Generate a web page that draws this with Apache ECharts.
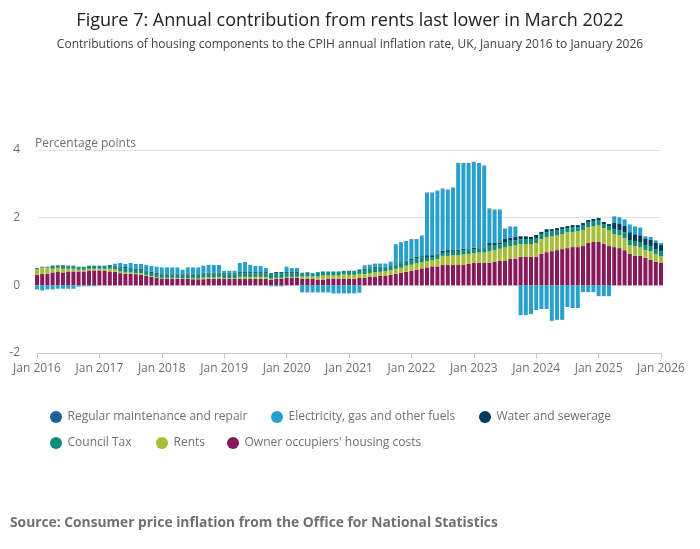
<!DOCTYPE html>
<html>
<head>
<meta charset="utf-8">
<title>Figure 7</title>
<script src="https://cdn.jsdelivr.net/npm/echarts@6/dist/echarts.min.js"></script>
<style>
  html, body { margin: 0; padding: 0; background: #fff; }
  #chart { width: 700px; height: 549px; }
</style>
</head>
<body>
<div id="chart"></div>
<script>
// month labels, Jan 2016 to Jan 2026
var monthNames = ['Jan', 'Feb', 'Mar', 'Apr', 'May', 'Jun', 'Jul', 'Aug', 'Sep', 'Oct', 'Nov', 'Dec'];
var years = [2016, 2017, 2018, 2019, 2020, 2021, 2022, 2023, 2024, 2025, 2026];
var yTicks = [-2, 0, 2, 4];

// contributions, percentage points (one row per year)
var ownerOccupiers = [
  0.31, 0.34, 0.34, 0.38, 0.41, 0.38, 0.41, 0.41, 0.41, 0.41, 0.44, 0.44,
  0.44, 0.44, 0.41, 0.40, 0.36, 0.34, 0.34, 0.33, 0.31, 0.28, 0.25, 0.22,
  0.20, 0.20, 0.20, 0.20, 0.19, 0.19, 0.18, 0.18, 0.18, 0.19, 0.19, 0.19,
  0.19, 0.19, 0.19, 0.19, 0.19, 0.19, 0.19, 0.19, 0.19, 0.17, 0.19, 0.19,
  0.22, 0.22, 0.22, 0.20, 0.20, 0.20, 0.17, 0.17, 0.20, 0.20, 0.20, 0.20,
  0.19, 0.19, 0.22, 0.22, 0.26, 0.26, 0.29, 0.29, 0.31, 0.34, 0.37, 0.40,
  0.43, 0.46, 0.50, 0.53, 0.56, 0.56, 0.60, 0.60, 0.60, 0.60, 0.60, 0.63,
  0.67, 0.67, 0.67, 0.67, 0.70, 0.72, 0.72, 0.79, 0.79, 0.84, 0.84, 0.84,
  0.84, 0.93, 0.98, 1.01, 1.04, 1.07, 1.10, 1.13, 1.13, 1.16, 1.25, 1.28,
  1.28, 1.22, 1.16, 1.13, 1.10, 1.04, 0.93, 0.87, 0.87, 0.81, 0.75, 0.69,
  0.66
];
var rents = [
  0.17, 0.18, 0.18, 0.11, 0.11, 0.11, 0.08, 0.08, 0.05, 0.05, 0.05, 0.05,
  0.05, 0.05, 0.08, 0.08, 0.05, 0.04, 0.04, 0.03, 0.05, 0.03, 0.02, 0.02,
  0.02, 0.02, 0.02, 0.02, 0.02, 0.02, 0.04, 0.02, 0.05, 0.04, 0.04, 0.06,
  0.02, 0.02, 0.02, 0.06, 0.06, 0.06, 0.06, 0.06, 0.06, 0.03, 0.03, 0.03,
  0.03, 0.03, 0.03, 0.06, 0.06, 0.06, 0.09, 0.12, 0.09, 0.09, 0.09, 0.12,
  0.12, 0.12, 0.12, 0.11, 0.10, 0.13, 0.11, 0.13, 0.14, 0.15, 0.15, 0.18,
  0.18, 0.19, 0.18, 0.19, 0.19, 0.22, 0.27, 0.27, 0.29, 0.29, 0.31, 0.30,
  0.28, 0.30, 0.30, 0.34, 0.34, 0.36, 0.41, 0.37, 0.39, 0.38, 0.38, 0.38,
  0.41, 0.44, 0.44, 0.44, 0.44, 0.44, 0.47, 0.44, 0.47, 0.47, 0.47, 0.47,
  0.50, 0.47, 0.47, 0.38, 0.38, 0.35, 0.26, 0.29, 0.26, 0.23, 0.26, 0.23,
  0.20
];
var councilTax = [
  0.03, 0.03, 0.03, 0.06, 0.06, 0.08, 0.07, 0.07, 0.07, 0.09, 0.09, 0.09,
  0.09, 0.09, 0.09, 0.08, 0.12, 0.13, 0.11, 0.10, 0.10, 0.10, 0.10, 0.10,
  0.11, 0.11, 0.11, 0.11, 0.11, 0.11, 0.11, 0.13, 0.12, 0.12, 0.12, 0.10,
  0.14, 0.14, 0.14, 0.11, 0.11, 0.11, 0.11, 0.11, 0.11, 0.14, 0.14, 0.14,
  0.11, 0.11, 0.11, 0.10, 0.12, 0.09, 0.13, 0.12, 0.12, 0.12, 0.12, 0.11,
  0.11, 0.11, 0.12, 0.13, 0.14, 0.13, 0.13, 0.11, 0.12, 0.10, 0.13, 0.12,
  0.14, 0.15, 0.15, 0.12, 0.08, 0.13, 0.09, 0.12, 0.13, 0.13, 0.13, 0.13,
  0.12, 0.12, 0.12, 0.16, 0.15, 0.13, 0.15, 0.16, 0.15, 0.14, 0.15, 0.15,
  0.15, 0.15, 0.15, 0.15, 0.15, 0.15, 0.12, 0.15, 0.12, 0.15, 0.15, 0.15,
  0.15, 0.12, 0.12, 0.15, 0.15, 0.18, 0.15, 0.15, 0.15, 0.15, 0.15, 0.15,
  0.15
];
var water = [
  0.00, 0.00, 0.00, 0.03, 0.01, 0.02, 0.02, 0.02, 0.02, 0.00, 0.00, 0.00,
  0.00, 0.00, 0.02, 0.02, 0.03, 0.03, 0.02, 0.03, 0.03, 0.03, 0.03, 0.03,
  0.02, 0.02, 0.02, 0.02, 0.03, 0.03, 0.02, 0.02, 0.03, 0.03, 0.03, 0.01,
  0.03, 0.03, 0.03, 0.03, 0.03, 0.03, 0.03, 0.03, 0.03, 0.02, 0.03, 0.03,
  0.03, 0.03, 0.03, 0.01, 0.01, 0.01, 0.00, 0.00, 0.00, 0.00, 0.00, 0.00,
  0.01, 0.01, 0.01, 0.03, 0.03, 0.03, 0.02, 0.02, 0.02, 0.03, 0.03, 0.03,
  0.04, 0.04, 0.03, 0.05, 0.06, 0.03, 0.06, 0.05, 0.04, 0.04, 0.04, 0.03,
  0.04, 0.03, 0.03, 0.08, 0.07, 0.06, 0.09, 0.09, 0.10, 0.09, 0.08, 0.06,
  0.09, 0.06, 0.09, 0.06, 0.06, 0.06, 0.06, 0.06, 0.06, 0.06, 0.06, 0.06,
  0.06, 0.06, 0.06, 0.20, 0.20, 0.20, 0.23, 0.20, 0.20, 0.20, 0.18, 0.20,
  0.18
];
var electricity = [
  -0.12, -0.15, -0.12, -0.12, -0.10, -0.10, -0.10, -0.10, -0.04, -0.03, -0.03, -0.03,
  0.00, 0.00, 0.00, 0.06, 0.10, 0.09, 0.15, 0.14, 0.14, 0.16, 0.17, 0.18,
  0.18, 0.18, 0.18, 0.18, 0.11, 0.18, 0.18, 0.18, 0.20, 0.22, 0.22, 0.24,
  0.05, 0.05, 0.05, 0.27, 0.30, 0.21, 0.18, 0.18, 0.12, -0.03, -0.03, -0.03,
  0.16, 0.12, 0.12, -0.21, -0.21, -0.21, -0.21, -0.21, -0.21, -0.24, -0.24, -0.24,
  -0.24, -0.24, -0.22, 0.09, 0.07, 0.08, 0.08, 0.08, 0.09, 0.57, 0.57, 0.56,
  0.55, 0.50, 0.59, 1.83, 1.83, 1.84, 1.82, 1.77, 1.81, 2.54, 2.52, 2.51,
  2.52, 2.47, 2.40, 1.00, 0.96, 0.95, 0.31, 0.33, 0.31, -0.88, -0.88, -0.85,
  -0.73, -0.70, -0.70, -1.05, -1.02, -1.02, -0.64, -0.67, -0.67, -0.20, -0.20, -0.20,
  -0.32, -0.32, -0.32, 0.18, 0.18, 0.18, 0.23, 0.23, 0.23, 0.06, 0.09, 0.06,
  0.06
];
var maintenance = [
  0, 0, 0, 0, 0, 0, 0, 0, 0, 0, 0, 0,
  0, 0, 0, 0, 0, 0, 0, 0, 0, 0, 0, 0,
  0, 0, 0, 0, 0, 0, 0, 0, 0, 0, 0, 0,
  0, 0, 0, 0, 0, 0, 0, 0, 0, 0, 0, 0,
  0, 0, 0, 0, 0, 0, 0, 0, 0, 0, 0, 0,
  0, 0, 0, 0.01, 0.01, 0.01, 0.01, 0.01, 0.02, 0.02, 0.02, 0.02,
  0.02, 0.02, 0.02, 0.02, 0.02, 0.02, 0.02, 0.02, 0.02, 0.02, 0.02, 0.02,
  0.02, 0.02, 0.02, 0.02, 0.02, 0.02, 0, 0, 0, 0, 0, 0,
  0, 0, 0, 0, 0, 0, 0, 0, 0, 0, 0, 0,
  0, 0, 0, 0, 0, 0, 0, 0, 0, 0, 0, 0,
  0
];

var months = [];
years.forEach(function (y) {
  monthNames.forEach(function (m) {
    if (y < 2026 || m === 'Jan') months.push(m + ' ' + y);
  });
});

var font = 'Open Sans';
var grey = '#707071';

var seriesDefs = [
  {name: "Owner occupiers' housing costs", data: ownerOccupiers, color: '#871a5b'},
  {name: 'Rents', data: rents, color: '#a8bd3a'},
  {name: 'Council Tax', data: councilTax, color: '#118c7b'},
  {name: 'Water and sewerage', data: water, color: '#003c57'},
  {name: 'Electricity, gas and other fuels', data: electricity, color: '#27a0cc'},
  {name: 'Regular maintenance and repair', data: maintenance, color: '#206095'}
];

// legend items placed one by one, as in the original
var legendPos = [
  ['Regular maintenance and repair', 50, 411],
  ['Electricity, gas and other fuels', 271, 411],
  ['Water and sewerage', 479, 411],
  ['Council Tax', 50, 437],
  ['Rents', 156, 437],
  ["Owner occupiers' housing costs", 227, 437]
];

var chart = echarts.init(document.getElementById('chart'));

var option = {
  backgroundColor: '#fff',
  animation: false,
  title: {
    left: 'center',
    top: 4,
    text: 'Figure 7: Annual contribution from rents last lower in March 2022',
    subtext: 'Contributions of housing components to the CPIH annual inflation rate, UK, January 2016 to January 2026',
    itemGap: 4,
    textStyle: {fontFamily: font, fontSize: 18, fontWeight: 'normal', color: '#222', lineHeight: 24},
    subtextStyle: {fontFamily: font, fontSize: 12, color: '#414042', lineHeight: 16}
  },
  graphic: [
    {
      type: 'text',
      left: 35,
      top: 138,
      style: {text: 'Percentage points', fontFamily: font, fontSize: 12, fill: grey}
    },
    {
      type: 'text',
      left: 10,
      top: 516,
      style: {
        text: 'Source: Consumer price inflation from the Office for National Statistics',
        fontFamily: font, fontSize: 13.8, fontWeight: 'bold', fill: grey
      }
    }
  ],
  legend: legendPos.map(function (p) {
    return {
      data: [p[0]],
      left: p[1],
      top: p[2],
      padding: 0,
      icon: 'circle',
      itemWidth: 13,
      itemHeight: 12,
      selectedMode: false,
      textStyle: {fontFamily: font, fontSize: 12, color: grey}
    };
  }),
  grid: {left: 37, right: 39, top: 150, bottom: 196},
  xAxis: {
    type: 'category',
    data: months,
    boundaryGap: false,
    axisLine: {onZero: false, lineStyle: {color: '#bfcbdf'}},
    axisTick: {interval: 11, length: 6, lineStyle: {color: '#bfcbdf'}},
    axisLabel: {interval: 11, margin: 10, fontFamily: font, fontSize: 12, color: grey},
    splitLine: {show: false}
  },
  yAxis: {
    type: 'value',
    min: yTicks[0],
    max: yTicks[yTicks.length - 1],
    interval: 2,
    axisLine: {show: false},
    axisTick: {show: false},
    axisLabel: {margin: 17, padding: [6, 0, 0, 0], fontFamily: font, fontSize: 12, color: grey},
    splitLine: {lineStyle: {color: '#e4e4e4'}}
  },
  series: seriesDefs.map(function (s) {
    return {
      name: s.name,
      type: 'bar',
      stack: 'total',
      data: s.data,
      barWidth: 4,
      itemStyle: {color: s.color},
      emphasis: {disabled: true}
    };
  })
};

chart.setOption(option);
</script>
</body>
</html>
